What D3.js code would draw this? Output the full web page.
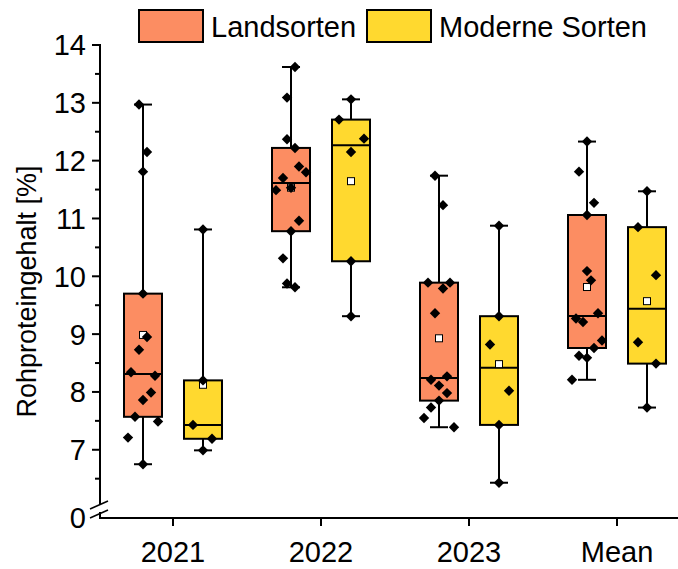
<!DOCTYPE html>
<html>
<head>
<meta charset="utf-8">
<script src="https://cdn.jsdelivr.net/npm/d3@7"></script>
<style>
  html, body { margin: 0; padding: 0; background: #fff; }
  svg text { font-family: "Liberation Sans", Arial, sans-serif; fill: #000; }
</style>
</head>
<body>
<svg id="chart" width="678" height="569"></svg>
<script>
// ---------------- data ----------------
const categories = ["2021", "2022", "2023", "Mean"];
const seriesNames = ["Landsorten", "Moderne Sorten"];
const seriesColors = ["#FC8D62", "#FFD92F"];
const yTickValues = [7, 8, 9, 10, 11, 12, 13, 14];
const yMinorTicks = [6.5, 7.5, 8.5, 9.5, 10.5, 11.5, 12.5, 13.5];
const yAxisTitle = "Rohproteingehalt [%]";
const brokenAxisLabel = "0";

// Rohproteingehalt values per category (Landsorten)
const landsorten = [
  [12.97, 12.15, 11.81, 9.70, 8.95, 8.73, 8.34, 8.28, 7.99, 7.86, 7.57, 7.49, 7.21, 6.75],
  [13.62, 13.09, 12.37, 12.22, 11.90, 11.80, 11.70, 11.53, 11.49, 10.96, 10.78, 10.31, 9.875, 9.81],
  [11.74, 11.23, 9.89, 9.89, 9.79, 9.36, 8.27, 8.21, 8.11, 7.98, 7.85, 7.73, 7.55, 7.39],
  [12.33, 11.81, 11.27, 11.06, 10.09, 9.93, 9.36, 9.27, 9.21, 8.89, 8.76, 8.625, 8.59, 8.21]
];
// Rohproteingehalt values per category (Moderne Sorten)
const moderneSorten = [
  [10.81, 8.20, 7.43, 7.19, 6.99],
  [13.06, 12.71, 12.38, 12.15, 10.26, 9.31],
  [10.875, 9.31, 8.82, 8.02, 7.43, 6.43],
  [11.47, 10.85, 10.02, 8.86, 8.49, 7.73]
];

// horizontal jitter of the raw points (pixels), layout only
const jitterLandsorten = [
  [-4, 4, 0, 0, 4, -4, -12, 12, 8, 0, -8, 15, -15, 0],
  [4, -4, -4, 4, 8, 15, -8, 0, -15, 8, 0, -8, -4, 4],
  [-4, 4, -11, 11, 4, -4, 8, -8, 0, 8, 0, -8, -15, 15],
  [0, -8, 7, 0, 0, 4, 11, -11, -4, 15, 7, -8, 0, -15]
];
const jitterModerne = [
  [0, 0, -10, 9, 0],
  [0, -12, 13, 0, 0, 0],
  [0, 0, -9, 10, 0, 0],
  [0, -9, 9, -9, 9, 0]
];

// ---------------- layout ----------------
const svg = d3.select("#chart");
const axisLeft = 100, axisBottom = 518, axisTop = 45, axisRight = 678;
const fontSize = 29;
const boxW = 38, capW = 18;

const x = d3.scaleBand().domain(categories).range([99, 691]).padding(0);
const xSub = d3.scalePoint().domain(seriesNames).range([-30, 30]);
const y = d3.scaleLinear().domain([5.82, 14]).range([axisBottom, axisTop]);

function median(s) {
  const n = s.length;
  return n % 2 ? s[(n - 1) / 2] : (s[n / 2 - 1] + s[n / 2]) / 2;
}
function stats(values) {
  const s = values.slice().sort((a, b) => a - b);
  const n = s.length;
  const lower = n % 2 ? s.slice(0, (n + 1) / 2) : s.slice(0, n / 2);
  const upper = n % 2 ? s.slice((n - 1) / 2) : s.slice(n / 2);
  return {
    min: s[0], max: s[n - 1],
    q1: median(lower), q3: median(upper),
    med: median(s), mean: d3.mean(s)
  };
}

const groups = [];
categories.forEach((c, i) => {
  [[landsorten, jitterLandsorten], [moderneSorten, jitterModerne]].forEach(([data, jit], si) => {
    groups.push({
      cat: c, series: seriesNames[si], color: seriesColors[si],
      values: data[i], jitter: jit[i], st: stats(data[i])
    });
  });
});

// ---------------- axes ----------------
const ax = svg.append("g").attr("stroke", "#000").attr("stroke-width", 2).attr("fill", "none");
ax.append("line").attr("x1", axisLeft).attr("x2", axisLeft)
  .attr("y1", axisTop - 1).attr("y2", 505);
ax.append("line").attr("x1", axisLeft).attr("x2", axisLeft)
  .attr("y1", 512).attr("y2", axisBottom);
ax.append("line").attr("x1", 90).attr("y1", 509).attr("x2", 108).attr("y2", 501).attr("stroke-width", 1.6);
ax.append("line").attr("x1", 90).attr("y1", 518).attr("x2", 108).attr("y2", 510).attr("stroke-width", 1.6);
ax.append("line").attr("x1", axisLeft - 1).attr("x2", axisRight)
  .attr("y1", axisBottom).attr("y2", axisBottom);

// y ticks
const yAxisG = svg.append("g");
yAxisG.selectAll("line.major").data(yTickValues).join("line").attr("class", "major")
  .attr("x1", axisLeft - 8).attr("x2", axisLeft)
  .attr("y1", d => y(d)).attr("y2", d => y(d))
  .attr("stroke", "#000").attr("stroke-width", 2);
yAxisG.selectAll("line.minor").data(yMinorTicks).join("line").attr("class", "minor")
  .attr("x1", axisLeft - 5).attr("x2", axisLeft)
  .attr("y1", d => y(d)).attr("y2", d => y(d))
  .attr("stroke", "#000").attr("stroke-width", 2);
yAxisG.selectAll("text").data(yTickValues).join("text")
  .attr("x", axisLeft - 14).attr("y", d => y(d))
  .attr("dy", "0.36em").attr("text-anchor", "end")
  .attr("font-size", fontSize).text(d => d);
yAxisG.append("text")
  .attr("x", axisLeft - 14).attr("y", axisBottom).attr("dy", "0.36em")
  .attr("text-anchor", "end").attr("font-size", fontSize).text(brokenAxisLabel);

// x ticks
const xAxisG = svg.append("g");
xAxisG.selectAll("line").data(categories).join("line")
  .attr("x1", d => x(d) + x.bandwidth() / 2).attr("x2", d => x(d) + x.bandwidth() / 2)
  .attr("y1", axisBottom).attr("y2", axisBottom + 8)
  .attr("stroke", "#000").attr("stroke-width", 2);
xAxisG.selectAll("text").data(categories).join("text")
  .attr("x", d => x(d) + x.bandwidth() / 2).attr("y", 562)
  .attr("text-anchor", "middle").attr("font-size", fontSize).text(d => d);

// y title
svg.append("text")
  .attr("transform", `translate(36, ${(axisTop + axisBottom) / 2 + 10}) rotate(-90)`)
  .attr("text-anchor", "middle").attr("font-size", 27).text(yAxisTitle);

// ---------------- boxes ----------------
const cx = g => x(g.cat) + x.bandwidth() / 2 + xSub(g.series);
const gBox = svg.append("g").selectAll("g").data(groups).join("g");

gBox.append("line").attr("x1", cx).attr("x2", cx)
  .attr("y1", g => y(g.st.q3)).attr("y2", g => y(g.st.max))
  .attr("stroke", "#000").attr("stroke-width", 2);
gBox.append("line").attr("x1", cx).attr("x2", cx)
  .attr("y1", g => y(g.st.q1)).attr("y2", g => y(g.st.min))
  .attr("stroke", "#000").attr("stroke-width", 2);
gBox.append("line").attr("x1", g => cx(g) - capW / 2).attr("x2", g => cx(g) + capW / 2)
  .attr("y1", g => y(g.st.max)).attr("y2", g => y(g.st.max))
  .attr("stroke", "#000").attr("stroke-width", 2);
gBox.append("line").attr("x1", g => cx(g) - capW / 2).attr("x2", g => cx(g) + capW / 2)
  .attr("y1", g => y(g.st.min)).attr("y2", g => y(g.st.min))
  .attr("stroke", "#000").attr("stroke-width", 2);
gBox.append("rect")
  .attr("x", g => cx(g) - boxW / 2).attr("width", boxW)
  .attr("y", g => y(g.st.q3)).attr("height", g => y(g.st.q1) - y(g.st.q3))
  .attr("fill", g => g.color).attr("stroke", "#000").attr("stroke-width", 2);
gBox.append("line").attr("x1", g => cx(g) - boxW / 2).attr("x2", g => cx(g) + boxW / 2)
  .attr("y1", g => y(g.st.med)).attr("y2", g => y(g.st.med))
  .attr("stroke", "#000").attr("stroke-width", 2);
gBox.append("rect")
  .attr("x", g => cx(g) - 3.5).attr("y", g => y(g.st.mean) - 3.5)
  .attr("width", 7).attr("height", 7)
  .attr("fill", "#fff").attr("stroke", "#000").attr("stroke-width", 1);
const dr = 5.2;
gBox.each(function (g) {
  d3.select(this).selectAll("path.pt").data(g.values.map((v, k) => ({ v, j: g.jitter[k] })))
    .join("path").attr("class", "pt")
    .attr("d", d => {
      const px = cx(g) + d.j, py = y(d.v);
      return `M${px},${py - dr}L${px + dr},${py}L${px},${py + dr}L${px - dr},${py}Z`;
    })
    .attr("fill", "#000");
});

// ---------------- legend ----------------
const legendItems = [
  { name: seriesNames[0], color: seriesColors[0], rx: 139, tx: 211 },
  { name: seriesNames[1], color: seriesColors[1], rx: 367, tx: 439 }
];
const lg = svg.append("g").selectAll("g").data(legendItems).join("g");
lg.append("rect").attr("x", d => d.rx).attr("y", 10).attr("width", 64).attr("height", 32)
  .attr("fill", d => d.color).attr("stroke", "#000").attr("stroke-width", 2);
lg.append("text").attr("x", d => d.tx).attr("y", 37).attr("font-size", fontSize).text(d => d.name);
</script>
</body>
</html>
